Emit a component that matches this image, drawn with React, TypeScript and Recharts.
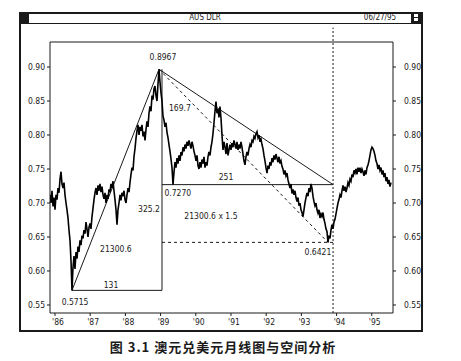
import { Line, LineChart, ReferenceDot, ReferenceLine, XAxis, YAxis } from "recharts";

// AUD/USD closes, ~35 samples a year, first one in late Dec 1985
const FIRST_SAMPLE = 1985.858;
const SAMPLES_PER_YEAR = 35.2;

const rates86 = [
  0.712, 0.7, 0.718, 0.695, 0.708, 0.69, 0.712, 0.705, 0.722, 0.715, 0.735, 0.746, 0.728, 0.722, 0.73, 0.712,
  0.7, 0.69, 0.678, 0.66, 0.645, 0.615, 0.5715, 0.605, 0.622, 0.603, 0.628, 0.618, 0.636, 0.628, 0.645, 0.638,
  0.652, 0.648, 0.66, 0.655, 0.672, 0.662, 0.65, 0.664,
];
const rates87 = [
  0.67, 0.662, 0.68, 0.692, 0.705, 0.715, 0.722, 0.712, 0.726, 0.718, 0.728, 0.716, 0.724, 0.712, 0.706, 0.715,
  0.7, 0.712, 0.706, 0.72, 0.716, 0.728, 0.722, 0.732, 0.718, 0.705, 0.69, 0.668, 0.69, 0.7, 0.712, 0.704,
  0.715, 0.71, 0.718, 0.705,
];
const rates88 = [
  0.7, 0.712, 0.722, 0.716, 0.73, 0.742, 0.752, 0.748, 0.768, 0.78, 0.795, 0.806, 0.815, 0.8, 0.812, 0.806,
  0.815, 0.798, 0.805, 0.792, 0.808, 0.82, 0.812, 0.832, 0.842, 0.835, 0.858, 0.852, 0.868, 0.872, 0.858, 0.85,
  0.875, 0.8967, 0.878,
];
const rates89 = [
  0.862, 0.85, 0.828, 0.822, 0.812, 0.818, 0.804, 0.796, 0.786, 0.776, 0.765, 0.752, 0.727, 0.745, 0.76, 0.752,
  0.766, 0.758, 0.77, 0.762, 0.775, 0.77, 0.782, 0.776, 0.786, 0.78, 0.79, 0.784, 0.792, 0.786, 0.78, 0.79,
  0.784, 0.776, 0.77,
];
const rates90 = [
  0.762, 0.77, 0.755, 0.75, 0.76, 0.752, 0.764, 0.758, 0.768, 0.752, 0.76, 0.755, 0.768, 0.775, 0.77, 0.782,
  0.79, 0.802, 0.818, 0.835, 0.849, 0.832, 0.838, 0.826, 0.842, 0.825, 0.8, 0.778, 0.79, 0.782, 0.772, 0.788,
  0.77, 0.778, 0.786,
];
const rates91 = [
  0.778, 0.788, 0.782, 0.792, 0.786, 0.78, 0.79, 0.778, 0.786, 0.78, 0.79, 0.782, 0.772, 0.762, 0.756, 0.768,
  0.775, 0.77, 0.78, 0.786, 0.782, 0.792, 0.79, 0.798, 0.795, 0.802, 0.805, 0.796, 0.8, 0.79, 0.794, 0.786,
  0.78, 0.77, 0.762,
];
const rates92 = [
  0.752, 0.744, 0.755, 0.75, 0.76, 0.755, 0.766, 0.76, 0.77, 0.764, 0.772, 0.766, 0.76, 0.768, 0.758, 0.762,
  0.754, 0.75, 0.742, 0.748, 0.74, 0.744, 0.734, 0.728, 0.722, 0.728, 0.714, 0.72, 0.712, 0.718, 0.708, 0.702,
  0.708, 0.696, 0.7,
];
const rates93 = [
  0.69, 0.686, 0.68, 0.69, 0.7, 0.708, 0.715, 0.71, 0.722, 0.716, 0.728, 0.722, 0.71, 0.702, 0.696, 0.7,
  0.69, 0.685, 0.69, 0.678, 0.684, 0.68, 0.686, 0.676, 0.67, 0.662, 0.658, 0.6421, 0.652, 0.648, 0.66, 0.668,
  0.662, 0.672, 0.676,
];
const rates94 = [
  0.684, 0.692, 0.7, 0.705, 0.712, 0.708, 0.718, 0.726, 0.718, 0.724, 0.716, 0.722, 0.73, 0.726, 0.735, 0.732,
  0.742, 0.738, 0.748, 0.744, 0.75, 0.742, 0.752, 0.746, 0.752, 0.744, 0.75, 0.746, 0.74, 0.748, 0.742, 0.752,
  0.756, 0.762, 0.77, 0.778,
];
const rates95 = [
  0.782, 0.78, 0.776, 0.77, 0.762, 0.758, 0.75, 0.756, 0.748, 0.752, 0.742, 0.748, 0.738, 0.744, 0.732, 0.738,
  0.728, 0.734, 0.724, 0.73,
];

const years = [1986, 1987, 1988, 1989, 1990, 1991, 1992, 1993, 1994, 1995];
const priceTicks = [0.55, 0.6, 0.65, 0.7, 0.75, 0.8, 0.85, 0.9];

// time and price counts written on the triangles
const notes = [
  { t: 1989.55, rate: 0.8397, text: "169.7" },
  { t: 1990.86, rate: 0.7382, text: "251" },
  { t: 1990.43, rate: 0.6809, text: "21300.6 x 1.5" },
  { t: 1988.67, rate: 0.6912, text: "325.2" },
  { t: 1987.73, rate: 0.6324, text: "21300.6" },
  { t: 1987.59, rate: 0.5794, text: "131" },
];

const T_MIN = 1985.858;
const T_MAX = 1995.603;
const PRICE_MIN = 0.5382;
const PRICE_MAX = 0.9368;
const LEG_T = 1989.04; // vertical leg of both triangles
const APEX_T = 1993.9; // where the falling trend line meets 0.7270

const INK = "#1a1a1a";
const FONT = "'DejaVu Sans Condensed', 'Liberation Sans Narrow', sans-serif";
const FONT_SIZE = 8.5;

const rows = [
  ...rates86, ...rates87, ...rates88, ...rates89, ...rates90,
  ...rates91, ...rates92, ...rates93, ...rates94, ...rates95,
].map((rate, i) => ({ t: FIRST_SAMPLE + i / SAMPLES_PER_YEAR, rate }));

type Row = { t: number; rate: number };
const lowest = (from: number, to: number) =>
  rows.filter((r) => r.t >= from && r.t < to).reduce((a: Row, b: Row) => (b.rate < a.rate ? b : a));

const low86 = lowest(1986, 1988);
const peak = rows.reduce((a: Row, b: Row) => (b.rate > a.rate ? b : a));
const floor89 = lowest(1989, 1990.5);
const low93 = lowest(1992, 1994.5);

const pointLabels = [
  { t: 1989.068, rate: 0.9147, text: peak.rate.toFixed(4) },
  { t: 1989.49, rate: 0.7147, text: floor89.rate.toFixed(4) },
  { t: 1993.47, rate: 0.628, text: low93.rate.toFixed(4) },
  { t: 1986.57, rate: 0.5544, text: low86.rate.toFixed(4) },
];

function noteShape(text: string) {
  return (p: any) => (
    <text
      x={p.cx}
      y={p.cy}
      textAnchor="middle"
      dominantBaseline="central"
      fontSize={FONT_SIZE}
      fontFamily={FONT}
      fill={INK}
    >
      {text}
    </text>
  );
}

function YearTick({ x, y, payload }: any) {
  return (
    <text x={x + 3} y={y} dy={7} textAnchor="middle" fontSize={FONT_SIZE} fontFamily={FONT} fill={INK}>
      {"'" + String(payload.value).slice(2)}
    </text>
  );
}

const seg = (t1: number, r1: number, t2: number, r2: number) => [
  { x: t1, y: r1 },
  { x: t2, y: r2 },
];

export default function App() {
  const tickStyle = { fontSize: FONT_SIZE, fontFamily: FONT, fill: INK };
  return (
    <div style={{ position: "absolute", left: 0, top: 0, width: 461, height: 361, background: "#fff" }}>
      {/* window frame and title bar */}
      <div
        style={{
          position: "absolute",
          left: 19,
          top: 12,
          width: 404,
          height: 320,
          border: `2px solid ${INK}`,
          boxSizing: "border-box",
        }}
      />
      <div style={{ position: "absolute", left: 19, top: 23, width: 404, height: 1, background: INK }} />
      <div style={{ position: "absolute", left: 19, top: 12, width: 10, height: 11, background: INK }} />
      <div style={{ position: "absolute", left: 411, top: 12, width: 10, height: 11, background: INK }}>
        <div style={{ position: "absolute", left: 3, top: 2, width: 4, height: 3, background: "#fff" }} />
        <div style={{ position: "absolute", left: 3, top: 6, width: 4, height: 3, background: "#fff" }} />
      </div>
      <div
        style={{
          position: "absolute",
          left: 175,
          width: 60,
          top: 12,
          height: 11,
          lineHeight: "11px",
          textAlign: "center",
          fontSize: 8,
          fontFamily: FONT,
          color: INK,
        }}
      >
        AUS DLR
      </div>
      <div
        style={{
          position: "absolute",
          left: 350,
          width: 60,
          top: 12,
          height: 11,
          lineHeight: "11px",
          textAlign: "center",
          fontSize: 8,
          fontFamily: FONT,
          color: INK,
        }}
      >
        06/27/95
      </div>

      <div style={{ position: "absolute", left: 0, top: 0 }}>
        <LineChart width={461} height={361} data={rows} margin={{ top: 42, right: 0, bottom: 0, left: 0 }}>
          <XAxis
            dataKey="t"
            type="number"
            domain={[T_MIN, T_MAX]}
            ticks={years}
            interval={0}
            tick={<YearTick />}
            tickSize={3}
            tickMargin={2}
            height={48}
            stroke={INK}
            allowDataOverflow
          />
          <YAxis
            yAxisId="left"
            type="number"
            domain={[PRICE_MIN, PRICE_MAX]}
            ticks={priceTicks}
            interval={0}
            tickFormatter={(v: number) => v.toFixed(2)}
            tick={tickStyle}
            tickSize={3}
            tickMargin={2}
            width={50}
            stroke={INK}
            allowDataOverflow
          />
          <YAxis
            yAxisId="right"
            orientation="right"
            type="number"
            domain={[PRICE_MIN, PRICE_MAX]}
            ticks={priceTicks}
            interval={0}
            tickFormatter={(v: number) => v.toFixed(2)}
            tick={tickStyle}
            tickSize={3}
            tickMargin={8}
            width={68}
            stroke={INK}
            allowDataOverflow
          />
          <ReferenceLine yAxisId="left" y={PRICE_MAX} stroke={INK} ifOverflow="visible" />

          {/* 1986 low to 1989 high */}
          <ReferenceLine yAxisId="left" segment={seg(low86.t, low86.rate, peak.t, peak.rate)} stroke={INK} />
          <ReferenceLine yAxisId="left" segment={seg(low86.t, low86.rate, LEG_T, low86.rate)} stroke={INK} />
          <ReferenceLine yAxisId="left" segment={seg(LEG_T, peak.rate, LEG_T, low86.rate)} stroke={INK} />

          {/* falling triangle from the 1989 high */}
          <ReferenceLine yAxisId="left" segment={seg(peak.t, peak.rate, APEX_T, floor89.rate)} stroke={INK} />
          <ReferenceLine yAxisId="left" segment={seg(LEG_T, floor89.rate, APEX_T, floor89.rate)} stroke={INK} />
          <ReferenceLine
            yAxisId="left"
            segment={seg(peak.t, peak.rate, low93.t, low93.rate)}
            stroke={INK}
            strokeDasharray="3 3"
          />
          <ReferenceLine
            yAxisId="left"
            segment={seg(LEG_T, low93.rate, APEX_T, low93.rate)}
            stroke={INK}
            strokeDasharray="3 3"
          />
          <ReferenceLine
            yAxisId="left"
            segment={seg(APEX_T, PRICE_MIN, APEX_T, 0.958)}
            stroke={INK}
            strokeDasharray="2 2"
            ifOverflow="visible"
          />

          <Line
            yAxisId="left"
            dataKey="rate"
            type="linear"
            stroke="#000"
            strokeWidth={1.6}
            dot={false}
            isAnimationActive={false}
          />

          {[...pointLabels, ...notes].map((n) => (
            <ReferenceDot
              key={n.text}
              yAxisId="left"
              x={n.t}
              y={n.rate}
              r={0}
              shape={noteShape(n.text)}
            />
          ))}
        </LineChart>
      </div>

      <div
        style={{
          position: "absolute",
          left: 0,
          width: 446,
          top: 339,
          textAlign: "center",
          fontSize: 13,
          fontWeight: 700,
          letterSpacing: 1,
          fontFamily: "'Noto Sans CJK SC', sans-serif",
          color: INK,
          lineHeight: "16px",
        }}
      >
        图 3.1 澳元兑美元月线图与空间分析
      </div>
    </div>
  );
}
